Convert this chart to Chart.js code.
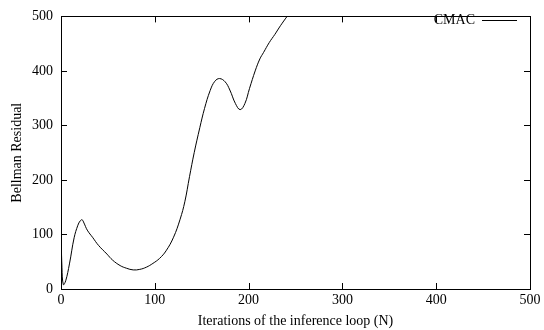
<!DOCTYPE html>
<html>
<head>
<meta charset="utf-8">
<script src="https://cdn.jsdelivr.net/npm/chart.js@4/dist/chart.umd.min.js"></script>
<style>
  html, body { margin: 0; padding: 0; background: #fff; }
  #wrap { width: 544px; height: 330px; }
</style>
</head>
<body>
<div id="wrap"><canvas id="residualChart" width="544" height="330"></canvas></div>
<script>
// values
const iterations = [0, 1, 2.5, 5, 9, 14, 18, 20.5, 22.5, 24.5, 28, 34, 40, 49, 55, 63, 70, 77, 84, 91, 98, 105, 112, 120, 127, 132, 137, 142, 148, 153, 159, 164, 169, 175, 180, 186, 191, 196, 201, 207, 212, 216, 222, 228, 234, 241];
const residuals  = [120, 40, 8, 15, 46, 94, 117, 125, 127, 121, 108, 94, 80, 64, 53, 43, 38, 35, 36, 40, 47, 56, 70, 95, 128, 160, 206, 250, 296, 331, 364, 381, 386, 380, 365, 340, 329, 340, 368, 400, 422, 434, 452, 467, 483, 500];
const xTicks = [0, 100, 200, 300, 400, 500];
const yTicks = [0, 100, 200, 300, 400, 500];
const seriesLabel = 'CMAC';

const FONT = 'Liberation Serif, Times New Roman, serif';

// gnuplot style frame: border box, inward ticks mirrored on all sides, key at top right
const framePlugin = {
  id: 'gnuplotFrame',
  afterDatasetsDraw(chart) {
    const { ctx, chartArea: a, scales: { x, y } } = chart;
    const tick = 6;
    ctx.save();
    ctx.strokeStyle = '#000';
    ctx.lineWidth = 1;
    ctx.beginPath();
    xTicks.forEach(v => {
      const px = Math.round(x.getPixelForValue(v)) + 0.5;
      ctx.moveTo(px, a.bottom); ctx.lineTo(px, a.bottom - tick);
      ctx.moveTo(px, a.top); ctx.lineTo(px, a.top + tick);
    });
    yTicks.forEach(v => {
      const py = Math.round(y.getPixelForValue(v)) + 0.5;
      ctx.moveTo(a.left, py); ctx.lineTo(a.left + tick, py);
      ctx.moveTo(a.right, py); ctx.lineTo(a.right - tick, py);
    });
    ctx.stroke();
    ctx.strokeRect(Math.round(a.left) + 0.5, Math.round(a.top) + 0.5,
                   Math.round(a.right - a.left), Math.round(a.bottom - a.top));

    // key
    const ky = 20.5;
    ctx.font = '14px ' + FONT;
    ctx.fillStyle = '#000';
    ctx.textAlign = 'right';
    ctx.textBaseline = 'middle';
    ctx.fillText(seriesLabel, 475, ky);
    ctx.beginPath();
    ctx.moveTo(482, ky); ctx.lineTo(517, ky);
    ctx.stroke();
    ctx.restore();
  }
};

const ctx = document.getElementById('residualChart').getContext('2d');
new Chart(ctx, {
  type: 'line',
  data: {
    datasets: [{
      label: seriesLabel,
      data: iterations.map((n, i) => ({ x: n, y: residuals[i] })),
      borderColor: '#000',
      borderWidth: 1,
      pointRadius: 0,
      fill: false,
      tension: 0.4
    }]
  },
  options: {
    responsive: false,
    animation: false,
    devicePixelRatio: 1,
    layout: { padding: { top: 10, right: 14, left: 0, bottom: 0 } },
    plugins: { legend: { display: false }, tooltip: { enabled: false } },
    scales: {
      x: {
        type: 'linear',
        min: 0, max: 500,
        afterBuildTicks: s => { s.ticks = xTicks.map(v => ({ value: v })); },
        afterFit: s => { s.height = 41; },
        grid: { display: false, drawTicks: false },
        border: { display: false },
        ticks: { color: '#000', padding: 3, font: { family: FONT, size: 14 }, maxRotation: 0 },
        title: {
          display: true, text: 'Iterations of the inference loop (N)', color: '#000',
          font: { family: FONT, size: 14 }, padding: { top: 4, bottom: 0 }
        }
      },
      y: {
        type: 'linear',
        min: 0, max: 500,
        afterBuildTicks: s => { s.ticks = yTicks.map(v => ({ value: v })); },
        afterFit: s => { s.width = 61; },
        grid: { display: false, drawTicks: false },
        border: { display: false },
        ticks: { color: '#000', padding: 8, font: { family: FONT, size: 14 } },
        title: {
          display: true, text: 'Bellman Residual', color: '#000',
          font: { family: FONT, size: 14 }, padding: { top: 9, bottom: 0 }
        }
      }
    }
  },
  plugins: [framePlugin]
});
</script>
</body>
</html>
